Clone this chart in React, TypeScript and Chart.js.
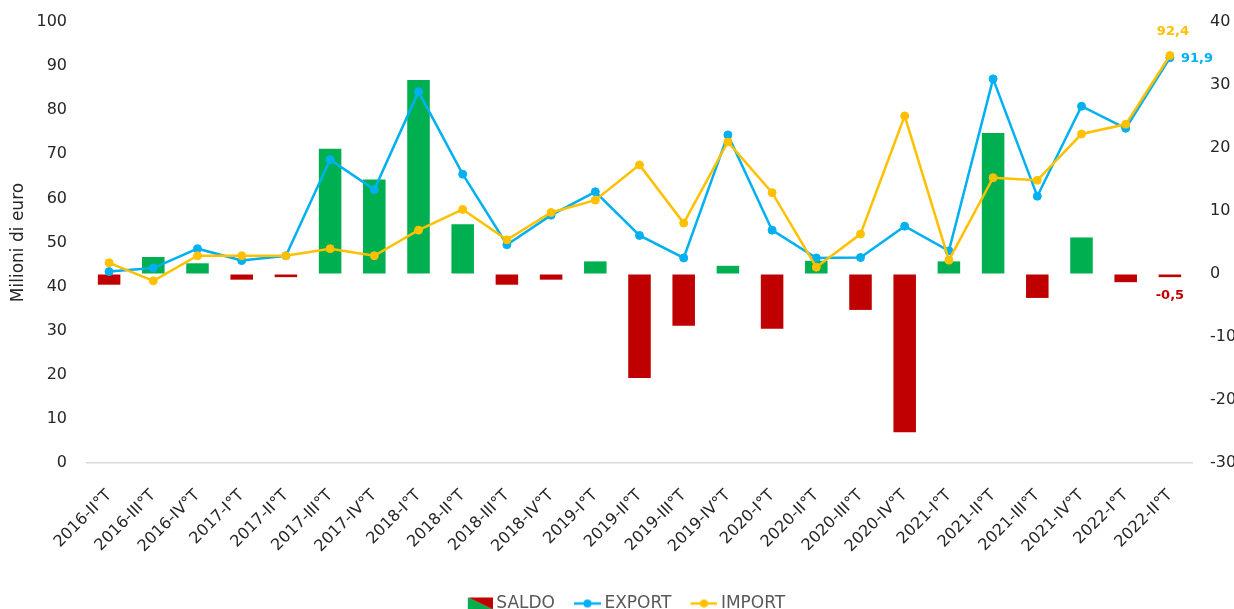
import React, { useEffect, useRef } from "react";
import { Chart, registerables } from "chart.js";

Chart.register(...registerables);

const categories = [
  "2016-II°T", "2016-III°T", "2016-IV°T", "2017-I°T", "2017-II°T", "2017-III°T", "2017-IV°T",
  "2018-I°T", "2018-II°T", "2018-III°T", "2018-IV°T", "2019-I°T", "2019-II°T", "2019-III°T",
  "2019-IV°T", "2020-I°T", "2020-II°T", "2020-III°T", "2020-IV°T", "2021-I°T", "2021-II°T",
  "2021-III°T", "2021-IV°T", "2022-I°T", "2022-II°T",
];

const saldo = [
  -1.7, 2.7, 1.7, -0.9, -0.5, 19.9, 15.0, 30.8, 7.9, -1.7, -0.9, 2.0, -16.5, -8.2, 1.3,
  -8.7, 2.1, -5.7, -25.1, 2.0, 22.4, -3.8, 5.8, -1.3, -0.5,
];

const exportValues = [
  43.4, 44.2, 48.6, 45.9, 47.0, 68.8, 62.0, 84.2, 65.5, 49.5, 56.2, 61.5, 51.6, 46.5, 74.4,
  52.8, 46.5, 46.6, 53.7, 48.1, 87.1, 60.5, 80.9, 75.9, 91.9,
];

const importValues = [
  45.4, 41.3, 47.0, 47.0, 47.0, 48.6, 47.0, 52.8, 57.5, 50.6, 56.8, 59.6, 67.6, 54.4, 72.8,
  61.3, 44.4, 51.9, 78.7, 46.0, 64.7, 64.1, 74.6, 76.8, 92.4,
];

const leftAxisRange = [0, 100, 10];
const rightAxisRange = [-30, 40, 10];

const GREEN = "#00B050";
const RED = "#C00000";
const BLUE = "#00B0F0";
const YELLOW = "#FFC000";
const FONT = "'DejaVu Sans', sans-serif";

const fmt = (v: number) => v.toFixed(1).replace(".", ",");

function makeBoxIcon(): HTMLCanvasElement {
  const c = document.createElement("canvas");
  c.width = 30;
  c.height = 16;
  const ctx = c.getContext("2d")!;
  const x0 = 5, x1 = 30, y0 = 2, y1 = 14;
  ctx.fillStyle = RED;
  ctx.beginPath();
  ctx.moveTo(x0, y0);
  ctx.lineTo(x1, y0);
  ctx.lineTo(x1, y1);
  ctx.closePath();
  ctx.fill();
  ctx.fillStyle = GREEN;
  ctx.beginPath();
  ctx.moveTo(x0, y0);
  ctx.lineTo(x1, y1);
  ctx.lineTo(x0, y1);
  ctx.closePath();
  ctx.fill();
  return c;
}

function makeLineIcon(color: string): HTMLCanvasElement {
  const c = document.createElement("canvas");
  c.width = 30;
  c.height = 16;
  const ctx = c.getContext("2d")!;
  ctx.strokeStyle = color;
  ctx.lineWidth = 2.5;
  ctx.beginPath();
  ctx.moveTo(3, 8);
  ctx.lineTo(30, 8);
  ctx.stroke();
  ctx.fillStyle = color;
  ctx.beginPath();
  ctx.arc(16.5, 8, 4, 0, Math.PI * 2);
  ctx.fill();
  return c;
}

const endLabels = {
  id: "endLabels",
  afterDatasetsDraw(chart: any) {
    const ctx = chart.ctx;
    const last = categories.length - 1;
    ctx.save();
    ctx.font = `bold 13px ${FONT}`;
    ctx.textBaseline = "middle";

    const imp = chart.getDatasetMeta(2).data[last];
    ctx.fillStyle = YELLOW;
    ctx.textAlign = "center";
    ctx.fillText(fmt(importValues[last]), imp.x + 3, imp.y - 24);

    const exp = chart.getDatasetMeta(1).data[last];
    ctx.fillStyle = BLUE;
    ctx.textAlign = "left";
    ctx.fillText(fmt(exportValues[last]), exp.x + 11, exp.y + 1);

    const bar = chart.getDatasetMeta(0).data[last];
    ctx.fillStyle = RED;
    ctx.textAlign = "center";
    ctx.fillText(fmt(saldo[last]), bar.x, bar.y + 18);
    ctx.restore();
  },
};

export default function App() {
  const ref = useRef<HTMLCanvasElement | null>(null);

  useEffect(() => {
    if (!ref.current) return;
    Chart.defaults.font.family = FONT;
    const boxIcon = makeBoxIcon();
    const expIcon = makeLineIcon(BLUE);
    const impIcon = makeLineIcon(YELLOW);

    const chart = new Chart(ref.current, {
      type: "bar",
      data: {
        labels: categories,
        datasets: [
          {
            type: "bar",
            label: "SALDO",
            data: saldo,
            yAxisID: "yR",
            backgroundColor: saldo.map((v) => (v >= 0 ? GREEN : RED)),
            borderWidth: 0,
            barPercentage: 0.51,
            categoryPercentage: 1,
            order: 3,
          },
          {
            type: "line",
            label: "EXPORT",
            data: exportValues,
            yAxisID: "yL",
            borderColor: BLUE,
            backgroundColor: BLUE,
            borderWidth: 2.5,
            pointRadius: 4,
            pointBorderWidth: 1,
            pointBackgroundColor: BLUE,
            pointBorderColor: BLUE,
            tension: 0,
            order: 2,
          },
          {
            type: "line",
            label: "IMPORT",
            data: importValues,
            yAxisID: "yL",
            borderColor: YELLOW,
            backgroundColor: YELLOW,
            borderWidth: 2.5,
            pointRadius: 4,
            pointBorderWidth: 1,
            pointBackgroundColor: YELLOW,
            pointBorderColor: YELLOW,
            tension: 0,
            order: 1,
          },
        ] as any,
      },
      options: {
        animation: false,
        responsive: false,
        maintainAspectRatio: false,
        layout: { padding: { top: 22, left: 0, right: 7, bottom: 0 } },
        plugins: {
          tooltip: { enabled: false },
          legend: {
            position: "bottom",
            labels: {
              font: { size: 17, family: FONT },
              color: "#595959",
              usePointStyle: true,
              pointStyleWidth: 20,
              padding: 21,
              generateLabels: () => [
                { text: "SALDO", pointStyle: boxIcon, datasetIndex: 0, fillStyle: RED, strokeStyle: RED, lineWidth: 0, hidden: false, fontColor: "#595959" },
                { text: "EXPORT", pointStyle: expIcon, datasetIndex: 1, fillStyle: BLUE, strokeStyle: BLUE, lineWidth: 0, hidden: false, fontColor: "#595959" },
                { text: "IMPORT", pointStyle: impIcon, datasetIndex: 2, fillStyle: YELLOW, strokeStyle: YELLOW, lineWidth: 0, hidden: false, fontColor: "#595959" },
              ] as any,
            },
          },
        },
        scales: {
          x: {
            offset: true,
            grid: { display: false, drawTicks: false },
            border: { display: true, color: "#d9d9d9", width: 1.5 },
            ticks: {
              autoSkip: false,
              maxRotation: 45,
              minRotation: 45,
              padding: 23,
              color: "#262626",
              font: { size: 16, family: FONT },
            },
            afterFit: (s: any) => {
              s.height = 111;
            },
          },
          yL: {
            type: "linear",
            position: "left",
            min: leftAxisRange[0],
            max: leftAxisRange[1],
            grid: {
              display: true,
              drawOnChartArea: false,
              drawTicks: true,
              tickLength: 20,
              color: "rgba(0,0,0,0)",
            },
            border: { display: false },
            ticks: {
              stepSize: leftAxisRange[2],
              padding: 0,
              color: "#262626",
              font: { size: 16, family: FONT },
            },
            title: {
              display: true,
              text: "Milioni di euro",
              color: "#262626",
              font: { size: 17, family: FONT },
              padding: { top: 8, bottom: 0 },
            },
            afterFit: (s: any) => {
              s.width = 87;
            },
          },
          yR: {
            type: "linear",
            position: "right",
            min: rightAxisRange[0],
            max: rightAxisRange[1],
            grid: {
              display: true,
              drawOnChartArea: false,
              drawTicks: true,
              tickLength: 18,
              color: "rgba(0,0,0,0)",
            },
            border: { display: false },
            ticks: {
              stepSize: rightAxisRange[2],
              padding: 0,
              color: "#262626",
              font: { size: 16, family: FONT },
            },
            afterFit: (s: any) => {
              s.width = 61;
            },
          },
        },
      } as any,
      plugins: [endLabels],
    });
    return () => chart.destroy();
  }, []);

  return (
    <div
      style={{
        position: "fixed",
        left: 0,
        top: 0,
        width: 1234,
        height: 609,
        overflow: "hidden",
        background: "#ffffff",
      }}
    >
      <canvas ref={ref} width={1260} height={622} style={{ display: "block", width: 1260, height: 622 }} />
    </div>
  );
}
